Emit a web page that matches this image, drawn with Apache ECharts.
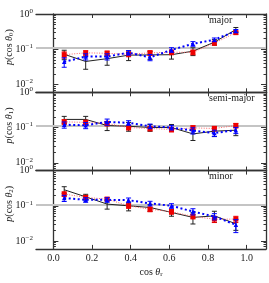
<!DOCTYPE html>
<html><head><meta charset="utf-8">
<script src="https://cdn.jsdelivr.net/npm/echarts@6/dist/echarts.min.js"></script>
<style>html,body{margin:0;padding:0;background:#fff}#c{width:269px;height:283px}</style>
</head><body><div id="c"></div>
<script>
// ---- data ----
const binCenters = [0.056, 0.167, 0.278, 0.389, 0.5, 0.611, 0.722, 0.833, 0.944];
const xTicks = [0, 0.2, 0.4, 0.6, 0.8, 1.0];
const yMajorTicks = [0.01, 0.1, 1];
const yMinorTicks = [0.007,0.008,0.009,0.02,0.03,0.04,0.05,0.06,0.07,0.08,0.09,0.2,0.3,0.4,0.5,0.6,0.7,0.8,0.9];
const uniformLevel = 0.111;
const panelNames = ['major', 'semi-major', 'minor'];
const panelSubs = ['0', '1', '2'];

const majorBlack = [0.072, 0.045, 0.054, 0.068, 0.069, 0.070, 0.088, 0.159, 0.36];
const majorRed   = [0.070, 0.079, 0.077, 0.072, 0.079, 0.082, 0.082, 0.149, 0.296];
const majorBlue  = [0.044, 0.062, 0.062, 0.080, 0.059, 0.096, 0.143, 0.186, 0.33];
const majorBlackErr = [0.3, 0.4, 0.35, 0.3, 0.25, 0.25, 0.25, 0.18, 0.15];
const majorRedErr   = [0.2, 0.15, 0.15, 0.15, 0.15, 0.15, 0.15, 0.12, 0.1];
const majorBlueErr  = [0.3, 0.2, 0.2, 0.15, 0.2, 0.15, 0.15, 0.12, 0.1];

const semiBlack = [0.17, 0.17, 0.114, 0.109, 0.10, 0.10, 0.066, 0.079, 0.084];
const semiRed   = [0.145, 0.14, 0.13, 0.10, 0.094, 0.088, 0.098, 0.094, 0.114];
const semiBlue  = [0.12, 0.116, 0.145, 0.136, 0.109, 0.10, 0.082, 0.07, 0.084];
const semiBlackErr = [0.22, 0.22, 0.28, 0.28, 0.22, 0.22, 0.35, 0.3, 0.3];
const semiRedErr   = [0.15, 0.15, 0.15, 0.15, 0.15, 0.15, 0.15, 0.15, 0.15];
const semiBlueErr  = [0.2, 0.2, 0.2, 0.15, 0.15, 0.15, 0.2, 0.2, 0.2];

const minorBlack = [0.286, 0.18, 0.112, 0.10, 0.09, 0.065, 0.047, 0.052, 0.031];
const minorRed   = [0.216, 0.174, 0.155, 0.10, 0.08, 0.068, 0.05, 0.042, 0.042];
const minorBlue  = [0.166, 0.148, 0.148, 0.145, 0.117, 0.10, 0.069, 0.05, 0.029];
const minorBlackErr = [0.22, 0.18, 0.28, 0.28, 0.22, 0.22, 0.35, 0.35, 0.35];
const minorRedErr   = [0.15, 0.12, 0.12, 0.15, 0.15, 0.15, 0.15, 0.2, 0.2];
const minorBlueErr  = [0.2, 0.15, 0.15, 0.15, 0.15, 0.15, 0.2, 0.2, 0.4];

const panels = [
  {black: majorBlack, red: majorRed, blue: majorBlue, be: majorBlackErr, re: majorRedErr, ue: majorBlueErr},
  {black: semiBlack, red: semiRed, blue: semiBlue, be: semiBlackErr, re: semiRedErr, ue: semiBlueErr},
  {black: minorBlack, red: minorRed, blue: minorBlue, be: minorBlackErr, re: minorRedErr, ue: minorBlueErr}
];

// ---- chart ----
const FONT = 'Liberation Serif';
const AXC = '#333';
const gridTop = [14, 92.3, 170.6];
const gridH = 78.3;
const grids = [], xAxes = [], yAxes = [], series = [], graphics = [];

function errRender(color, cap) {
  return function (params, api) {
    const x = api.value(0), lo = api.value(1), hi = api.value(2);
    const a = api.coord([x, lo]), b = api.coord([x, hi]);
    const st = {stroke: color, lineWidth: 1};
    return {type: 'group', children: [
      {type: 'line', shape: {x1: a[0], y1: a[1], x2: b[0], y2: b[1]}, style: st},
      {type: 'line', shape: {x1: a[0] - cap, y1: a[1], x2: a[0] + cap, y2: a[1]}, style: st},
      {type: 'line', shape: {x1: b[0] - cap, y1: b[1], x2: b[0] + cap, y2: b[1]}, style: st}
    ]};
  };
}

panels.forEach((p, i) => {
  grids.push({left: 36, width: 230, top: gridTop[i], height: gridH, containLabel: false, outerBoundsMode: 'none'});
  const isLast = i === 2;
  xAxes.push({
    gridIndex: i, type: 'value', position: 'bottom', min: -0.09, max: 1.1,
    axisLine: {show: true, onZero: false, lineStyle: {color: AXC, width: 1.3}},
    axisTick: {show: true, inside: true, length: 4, customValues: xTicks, lineStyle: {color: AXC}},
    axisLabel: {show: isLast, customValues: xTicks, color: '#222', fontFamily: FONT, fontSize: 10, margin: 4,
      formatter: v => v.toFixed(1)},
    splitLine: {show: false},
    name: isLast ? '{n|cos }{i|θ}{s|r}' : '',
    nameLocation: 'middle', nameGap: 17,
    nameTextStyle: {rich: {
      n: {fontFamily: FONT, fontSize: 10, color: '#222', lineHeight: 12},
      i: {fontFamily: FONT, fontStyle: 'italic', fontSize: 10, color: '#222', lineHeight: 12},
      s: {fontFamily: FONT, fontSize: 7, color: '#222', lineHeight: 7, verticalAlign: 'bottom'}
    }}
  });
  xAxes.push({
    gridIndex: i, type: 'value', position: 'top', min: -0.09, max: 1.1,
    axisLine: {show: true, onZero: false, lineStyle: {color: AXC, width: 1.3}},
    axisTick: {show: true, inside: true, length: 4, customValues: xTicks, lineStyle: {color: AXC}},
    axisLabel: {show: false}, splitLine: {show: false}
  });
  const yBase = {gridIndex: i, type: 'log', min: 0.006, max: 1, splitLine: {show: false}};
  // left major
  yAxes.push(Object.assign({}, yBase, {
    position: 'left',
    axisLine: {show: true, lineStyle: {color: AXC, width: 1.3}},
    axisTick: {show: true, inside: true, length: 5, customValues: yMajorTicks, lineStyle: {color: AXC}},
    axisLabel: {show: true, customValues: yMajorTicks, margin: 3,
      formatter: v => {
        const e = Math.round(Math.log10(v));
        return '{b|10}{s|' + (e < 0 ? '\u2212' + (-e) : e) + '}';
      },
      rich: {
        b: {fontFamily: FONT, fontSize: 10, color: '#222', lineHeight: 13},
        s: {fontFamily: FONT, fontSize: 7, color: '#222', lineHeight: 7, verticalAlign: 'top'}
      }
    }
  }));
  // left minor
  yAxes.push(Object.assign({}, yBase, {
    position: 'left', axisLine: {show: false},
    axisTick: {show: true, inside: true, length: 2.5, customValues: yMinorTicks, lineStyle: {color: AXC}},
    axisLabel: {show: false}
  }));
  // right major
  yAxes.push(Object.assign({}, yBase, {
    position: 'right',
    axisLine: {show: true, lineStyle: {color: AXC, width: 1.3}},
    axisTick: {show: true, inside: true, length: 5, customValues: yMajorTicks, lineStyle: {color: AXC}},
    axisLabel: {show: false}
  }));
  // right minor
  yAxes.push(Object.assign({}, yBase, {
    position: 'right', axisLine: {show: false},
    axisTick: {show: true, inside: true, length: 2.5, customValues: yMinorTicks, lineStyle: {color: AXC}},
    axisLabel: {show: false}
  }));

  const xi = i * 2, yi = i * 4;
  const pts = arr => binCenters.map((x, k) => [x, arr[k]]);
  const errs = (arr, e) => binCenters.map((x, k) => [x, arr[k] * (1 - e[k]), arr[k] * (1 + e[k])]);

  series.push({
    type: 'line', xAxisIndex: xi, yAxisIndex: yi, data: pts(p.black), symbol: 'none', z: 3,
    lineStyle: {color: '#222', width: 1}, itemStyle: {color: '#222'}, silent: true,
    markLine: {silent: true, symbol: 'none', label: {show: false}, z: 1,
      lineStyle: {color: '#c4c4c4', width: 2, type: 'solid'}, data: [{yAxis: uniformLevel}]}
  });
  series.push({
    type: 'line', xAxisIndex: xi, yAxisIndex: yi, data: pts(p.red), symbol: 'rect', symbolSize: 5, z: 4,
    lineStyle: {color: '#ff6666', width: 1, type: [1, 1.5]}, itemStyle: {color: '#ee0000'}, silent: true
  });
  series.push({
    type: 'line', xAxisIndex: xi, yAxisIndex: yi, data: pts(p.blue), symbol: 'triangle', symbolSize: 4.5, z: 5,
    lineStyle: {color: '#0000ff', width: 2, type: [2, 2.5]}, itemStyle: {color: '#0000ff'}, silent: true
  });
  series.push({type: 'custom', xAxisIndex: xi, yAxisIndex: yi, data: errs(p.black, p.be), z: 3,
    encode: {x: 0, y: [1, 2]}, renderItem: errRender('#222', 2.5), silent: true});
  series.push({type: 'custom', xAxisIndex: xi, yAxisIndex: yi, data: errs(p.red, p.re), z: 4,
    encode: {x: 0, y: [1, 2]}, renderItem: errRender('#ee0000', 2.5), silent: true});
  series.push({type: 'custom', xAxisIndex: xi, yAxisIndex: yi, data: errs(p.blue, p.ue), z: 5,
    encode: {x: 0, y: [1, 2]}, renderItem: errRender('#0000ff', 2.5), silent: true});

  graphics.push({type: 'text', left: 209, top: gridTop[i] + 1, z: 10,
    style: {text: panelNames[i], font: '10px "Liberation Serif"', fill: '#222'}});
  // rotated y-axis title
  graphics.push({type: 'text', x: 9, y: gridTop[i] + gridH / 2 - 6, rotation: Math.PI / 2, z: 10,
    style: {
      text: '{i|p}{n|(cos }{i|θ}{s|' + panelSubs[i] + '}{n|)}',
      align: 'center', verticalAlign: 'middle',
      rich: {
        n: {fontFamily: FONT, fontSize: 10, fill: '#222', lineHeight: 12},
        i: {fontFamily: FONT, fontStyle: 'italic', fontSize: 10, fill: '#222', lineHeight: 12},
        s: {fontFamily: FONT, fontSize: 7, fill: '#222', lineHeight: 7, verticalAlign: 'bottom'}
      }
    }});
});

const chart = echarts.init(document.getElementById('c'), null, {renderer: 'canvas'});
chart.setOption({
  animation: false,
  backgroundColor: '#fff',
  grid: grids, xAxis: xAxes, yAxis: yAxes, series: series, graphic: graphics
});
</script></body></html>
